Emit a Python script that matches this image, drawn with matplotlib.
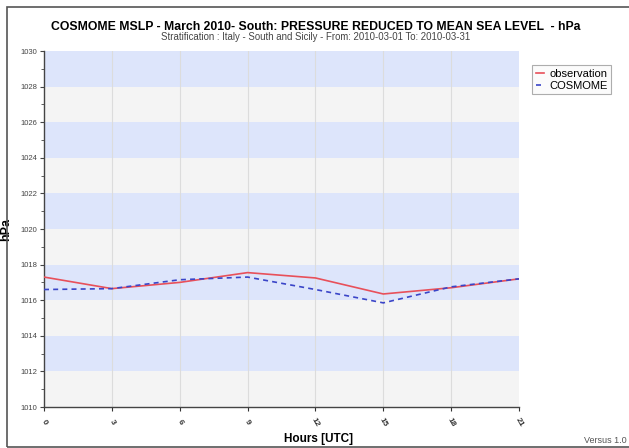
#!/usr/bin/env python3
import matplotlib
matplotlib.use("Agg")
import matplotlib.pyplot as plt
from matplotlib.patches import Rectangle
from matplotlib.ticker import MultipleLocator

# values
HOURS = [0, 3, 6, 9, 12, 15, 18, 21]
OBSERVATION = [1017.3, 1016.65, 1017.0, 1017.55, 1017.25, 1016.35, 1016.7, 1017.2]
COSMOME = [1016.6, 1016.65, 1017.15, 1017.3, 1016.6, 1015.85, 1016.75, 1017.2]
HOUR_LABELS = ["0", "3", "6", "9", "12", "15", "18", "21"]

TITLE = "COSMOME MSLP - March 2010- South: PRESSURE REDUCED TO MEAN SEA LEVEL  - hPa"
SUBTITLE = "Stratification : Italy - South and Sicily - From: 2010-03-01 To: 2010-03-31"

plt.rcParams["font.family"] = ["Liberation Sans", "DejaVu Sans"]


def main():
    fig = plt.figure(figsize=(6.29, 4.48), dpi=100)
    fig.patch.set_facecolor("white")

    # outer frame of the picture (right side runs off the image)
    fig.add_artist(Rectangle((7 / 629, 1.5 / 448), 1.1, 1 - 8.5 / 448,
                             transform=fig.transFigure, fill=False,
                             edgecolor="#555555", linewidth=1.2))

    ax = fig.add_axes([44 / 629, 1 - 407 / 448, 475 / 629, 356 / 448])
    ax.set_xlim(0, 21)
    ax.set_ylim(1010, 1030)

    # alternating bands
    for y0 in range(1010, 1030, 2):
        color = "#dde5fb" if (y0 - 1010) % 4 == 2 else "#f4f4f4"
        ax.axhspan(y0, y0 + 2, color=color, zorder=0, linewidth=0)

    for h in HOURS[1:-1]:
        ax.axvline(h, color="#dcdcdc", linewidth=0.8, zorder=1)

    ax.plot(HOURS, OBSERVATION, color="#e8505a", linewidth=1.2,
            label="observation", zorder=3)
    ax.plot(HOURS, COSMOME, color="#3a45c8", linewidth=1.2,
            linestyle=(0, (3, 2.5)), label="COSMOME", zorder=3)

    for side in ("top", "right"):
        ax.spines[side].set_visible(False)
    for side in ("left", "bottom"):
        ax.spines[side].set_color("#444444")
        ax.spines[side].set_linewidth(1.0)

    ax.yaxis.set_major_locator(MultipleLocator(2))
    ax.yaxis.set_minor_locator(MultipleLocator(1))
    ax.tick_params(axis="y", labelsize=5.5, colors="#444444", length=3,
                   width=0.8, pad=2)
    ax.tick_params(axis="y", which="minor", length=2, color="#444444")
    ax.set_xticks(HOURS)
    ax.set_xticklabels(HOUR_LABELS, rotation=-60, fontsize=6,
                       fontweight="bold", ha="center", va="center")
    ax.tick_params(axis="x", length=3, width=0.8, colors="#333333", pad=8)

    ax.set_ylabel("hPa", fontsize=9, fontweight="bold", labelpad=6)
    fig.text(318 / 629, 1 - 439 / 448, "Hours [UTC]", ha="center", va="center",
             fontsize=8.5, fontweight="bold")

    fig.text(316 / 629, 1 - 27 / 448, TITLE, ha="center", va="center",
             fontsize=8.8, fontweight="bold")
    fig.text(316 / 629, 1 - 37 / 448, SUBTITLE, ha="center", va="center",
             fontsize=6.9, color="#444444")
    fig.text(627 / 629, 1 - 440 / 448, "Versus 1.0", ha="right", va="center",
             fontsize=6.5, color="#555555")

    leg = fig.legend(loc="upper left", bbox_to_anchor=(532 / 629, 1 - 65 / 448),
                     fontsize=8, frameon=True, fancybox=False, borderaxespad=0,
                     handlelength=0.7, handletextpad=0.5, borderpad=0.35,
                     labelspacing=0.15)
    leg.get_frame().set_edgecolor("#999999")
    leg.get_frame().set_facecolor("#fbfbfb")
    leg.get_frame().set_linewidth(0.8)

    fig.savefig("out.png", dpi=100)
    plt.close(fig)


if __name__ == "__main__":
    main()
